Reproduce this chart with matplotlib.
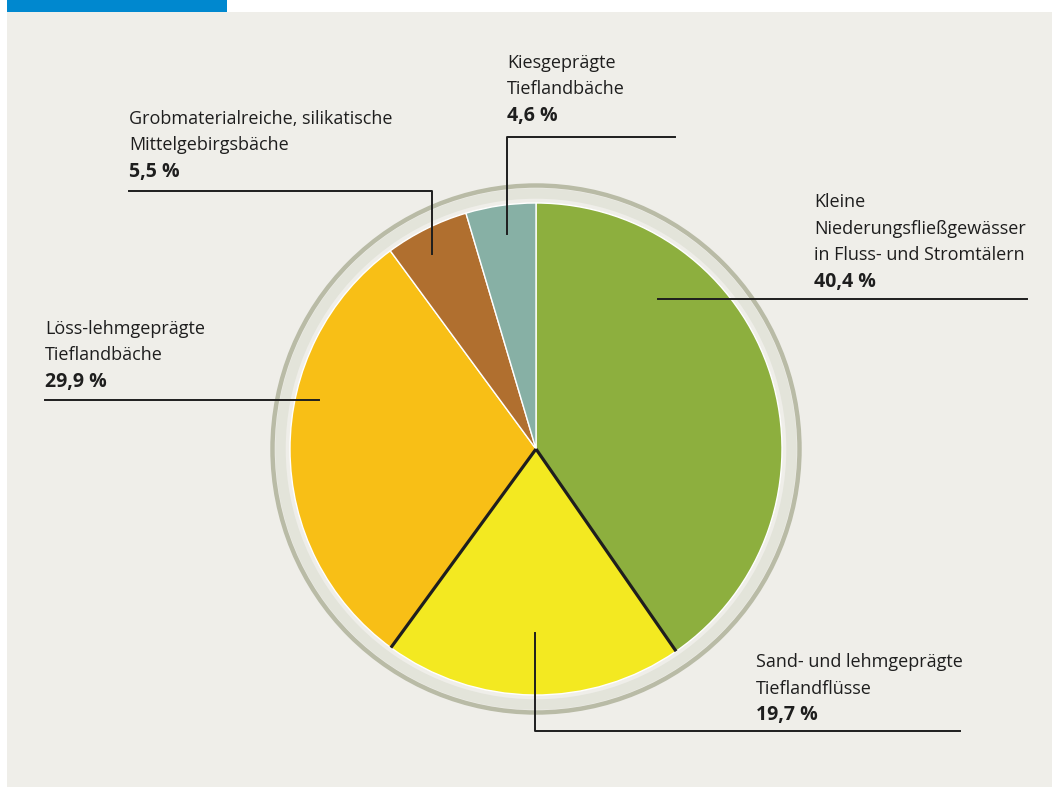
import numpy as np
import matplotlib
matplotlib.use('Agg')
import matplotlib.pyplot as plt
from matplotlib.patches import Circle, Rectangle

# Daten
namen = [
    'Kleine\nNiederungsfließgewässer\nin Fluss- und Stromtälern',
    'Sand- und lehmgeprägte\nTieflandflüsse',
    'Löss-lehmgeprägte\nTieflandbäche',
    'Grobmaterialreiche, silikatische\nMittelgebirgsbäche',
    'Kiesgeprägte\nTieflandbäche',
]
anteile = [40.4, 19.7, 29.9, 5.5, 4.6]
prozent_text = ['40,4 %', '19,7 %', '29,9 %', '5,5 %', '4,6 %']
farben = ['#8daf3e', '#f3e921', '#f8bf16', '#b06f2f', '#87b0a5']

plt.rcParams['font.family'] = ['Open Sans', 'DejaVu Sans']

fig = plt.figure(figsize=(10.52, 7.87), dpi=100)
fig.patch.set_facecolor('white')
ax = fig.add_axes([0, 0, 1, 1])

cx, cy, r = 536, 449, 246

# Tortendiagramm (y-Achse wird invertiert -> startangle -90, gegen Uhrzeigersinn)
wedges, _ = ax.pie(anteile, colors=farben, center=(cx, cy), radius=r,
                   startangle=-90, counterclock=True,
                   wedgeprops=dict(edgecolor='white', linewidth=1.0))
for w in wedges:
    w.set_zorder(2)

# pie() setzt eigene Grenzen -> danach Pixelkoordinaten setzen
ax.set_xlim(0, 1052)
ax.set_ylim(787, 0)
ax.set_aspect('equal')
ax.axis('off')

# Hintergrund und blauer Balken
ax.add_patch(Rectangle((7, 12), 1052, 787, facecolor='#efeee9', edgecolor='none', zorder=0))
ax.add_patch(Rectangle((7, 0), 220, 12, facecolor='#0088cf', edgecolor='none', zorder=0))

# Ring um die Torte
ax.add_patch(Circle((cx, cy), 255.5, fill=False, edgecolor='#e3e4da', lw=7.5, zorder=1))
ax.add_patch(Circle((cx, cy), 263.5, fill=False, edgecolor='#b9bba6', lw=3.2, zorder=1))

# schwarze Kanten am gelben Segment
for ang in [wedges[1].theta1, wedges[1].theta2]:
    t = np.deg2rad(ang)
    ax.plot([cx, cx + r * np.cos(t)], [cy, cy + r * np.sin(t)],
            color='#1e1e1e', lw=2.3, solid_capstyle='butt', zorder=3)

txt_farbe = '#1e1e1e'
lz = 26.5  # Zeilenabstand


def beschriftung(x, y0, name, prozent):
    zeilen = name.split('\n')
    for i, z in enumerate(zeilen):
        ax.text(x, y0 + i * lz, z, fontsize=13, fontweight='medium', color=txt_farbe,
                va='baseline', ha='left', zorder=5)
    ax.text(x, y0 + len(zeilen) * lz, prozent, fontsize=14, fontweight='bold',
            color=txt_farbe, va='baseline', ha='left', zorder=5)


lw_leader = 1.4
# Kleine Niederungsfließgewässer
beschriftung(814, 207, namen[0], prozent_text[0])
ax.plot([658, 1027], [299, 299], color=txt_farbe, lw=lw_leader, zorder=4)
# Sand- und lehmgeprägte
beschriftung(756, 667, namen[1], prozent_text[1])
ax.plot([535, 535, 960], [633, 731, 731], color=txt_farbe, lw=lw_leader, zorder=4)
# Löss-lehmgeprägte
beschriftung(45, 334, namen[2], prozent_text[2])
ax.plot([45, 319], [400, 400], color=txt_farbe, lw=lw_leader, zorder=4)
# Grobmaterialreiche
beschriftung(129, 124, namen[3], prozent_text[3])
ax.plot([129, 432, 432], [191, 191, 254], color=txt_farbe, lw=lw_leader, zorder=4)
# Kiesgeprägte
beschriftung(507, 68, namen[4], prozent_text[4])
ax.plot([675, 507, 507], [137, 137, 234], color=txt_farbe, lw=lw_leader, zorder=4)

plt.savefig('out.png', dpi=100, facecolor=fig.get_facecolor())
plt.close()
